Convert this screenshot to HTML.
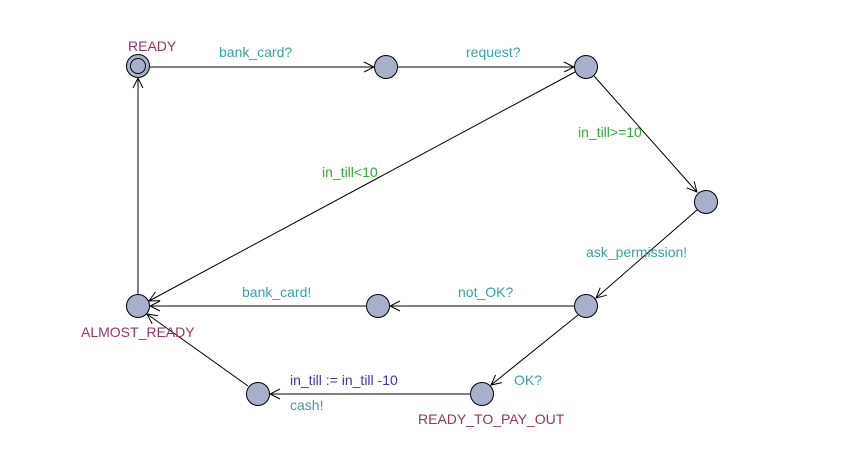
<!DOCTYPE html>
<html><head><meta charset="utf-8"><style>
html,body{margin:0;padding:0;background:#fff;width:863px;height:462px;overflow:hidden}
text{font-family:"Liberation Sans",Arial,sans-serif;font-size:14px}
.t{fill:#3aa0aa}.g{fill:#33aa33}.n{fill:#993366}.b{fill:#3838b0}
</style></head><body>
<svg width="863" height="462" xmlns="http://www.w3.org/2000/svg">
<defs><marker id="a" markerWidth="12" markerHeight="12" refX="11" refY="6" orient="auto" markerUnits="userSpaceOnUse"><path d="M1,1 L11,6 L1,11" fill="none" stroke="#000" stroke-width="1"/></marker></defs>
<g stroke="#000" stroke-width="1" fill="none" marker-end="url(#a)">
<line x1="150" y1="67" x2="374" y2="67"/>
<line x1="398" y1="67" x2="574" y2="67"/>
<line x1="594" y1="76" x2="697" y2="192"/>
<line x1="697" y1="210" x2="596" y2="298"/>
<line x1="574" y1="306" x2="390" y2="306"/>
<line x1="366" y1="306" x2="150" y2="306"/>
<line x1="575" y1="72" x2="149" y2="301"/>
<line x1="578" y1="315" x2="491" y2="385"/>
<line x1="470" y1="394" x2="270" y2="394"/>
<line x1="248" y1="386" x2="147" y2="314"/>
<line x1="138" y1="294" x2="138" y2="78"/>
</g>
<g fill="#a8b0cc" stroke="#000" stroke-width="1">
<circle cx="138" cy="66" r="11.5"/><circle cx="138" cy="66" r="7.5"/>
<circle cx="386" cy="67" r="11.5"/>
<circle cx="586" cy="67" r="11.5"/>
<circle cx="706" cy="202" r="11.5"/>
<circle cx="586" cy="306" r="11.5"/>
<circle cx="378" cy="306" r="11.5"/>
<circle cx="138" cy="306" r="11.5"/>
<circle cx="482" cy="394" r="11.5"/>
<circle cx="258" cy="394" r="11.5"/>
</g>
<text x="128" y="51" class="n">READY</text>
<text x="219" y="57" class="t">bank_card?</text>
<text x="466" y="57" class="t">request?</text>
<text x="578" y="137" class="g">in_till&gt;=10</text>
<text x="322" y="177" class="g">in_till&lt;10</text>
<text x="586" y="257" class="t">ask_permission!</text>
<text x="458" y="297" class="t">not_OK?</text>
<text x="242" y="297" class="t">bank_card!</text>
<text x="81" y="337" class="n">ALMOST_READY</text>
<text x="290" y="385" class="b">in_till := in_till -10</text>
<text x="290" y="410" class="t">cash!</text>
<text x="514" y="385" class="t">OK?</text>
<text x="418" y="424" class="n">READY_TO_PAY_OUT</text>
</svg>
</body></html>
